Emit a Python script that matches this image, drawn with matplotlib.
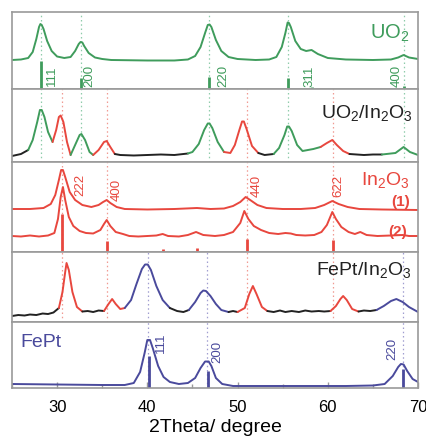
"""XRD patterns: UO2, UO2/In2O3, In2O3 (1)/(2), FePt/In2O3, FePt - stacked panels."""
import numpy as np
import matplotlib.pyplot as plt

plt.rcParams['font.family'] = ['Liberation Sans', 'DejaVu Sans']
plt.rcParams['mathtext.default'] = 'regular'

GREEN = '#3f9c5c'
RED = '#e8473e'
BLUE = '#4a4a9c'
BLACK = '#222222'
FRAME = '#9a9a9a'

# ---- UO2 (panel 1) ----
uo2_x = [25, 26, 26.8, 27.3, 27.7, 28.0, 28.15, 28.3, 28.5, 28.9, 29.4, 30.0, 30.8, 31.5,
         32.0, 32.4, 32.6, 32.8, 33.0, 33.5, 34.2, 35, 36, 40, 43, 44.5, 45.3, 45.9, 46.4,
         46.7, 46.9, 47.1, 47.6, 48.2, 49, 50, 52, 53.5, 54.3, 54.9, 55.3, 55.55, 55.7,
         55.9, 56.4, 57.0, 57.6, 58.2, 58.9, 60, 62, 65, 67, 67.8, 68.4, 69, 70]
uo2_y = [29, 29.5, 31, 37, 50, 62, 65, 64, 60, 48, 38, 32.5, 31, 32,
         38, 45, 47, 46.5, 43, 36, 31.5, 30, 29, 28.5, 28.5, 29.5, 33, 42, 56,
         64, 64.5, 62, 49, 38, 32, 30, 29, 29.5, 32, 42, 56, 66.5, 66,
         62, 48, 40, 38, 39, 35, 31, 29.5, 29, 29.5, 31.5, 34, 31.5, 30]
uo2_ref = [28.2, 32.6, 46.8, 55.6, 58.3, 68.4]
uo2_ref_h = [28, 11, 12, 11, 2, 3]
uo2_hkl = ['111', '200', '220', '311', '400']
uo2_hkl_x = [29.4, 33.6, 48.4, 58.0, 67.6]

# ---- UO2/In2O3 (panel 2) ----
mix1_x = [25, 26, 26.8, 27.3, 27.8, 28.1, 28.3, 28.6, 29.0, 29.5, 29.9, 30.2, 30.4, 30.7,
          31.1, 31.5, 32.0, 32.5, 32.7, 33.1, 33.6, 34.0, 34.6, 35.2, 35.5, 35.9, 36.4, 37,
          38.5, 40, 41.5, 43, 44, 44.5, 45.0, 45.7, 46.3, 46.7, 46.9, 47.2, 47.8, 48.5,
          49.2, 49.7, 50.2, 50.5, 50.7, 51.0, 51.6, 52.3, 53, 54, 54.6, 55.2, 55.5, 55.7,
          56.0, 56.6, 57.2, 57.8, 58.4, 59.2, 59.9, 60.5, 61.0, 61.7, 62.4, 63.2, 64, 65,
          66, 67.5, 68.4, 69.1, 70]
mix1_y = [6, 8, 12, 22, 40, 52, 52, 45, 30, 20, 32, 45, 46.5, 40,
          20, 7, 17, 27, 28, 22, 10, 7, 12, 20, 21, 15, 8, 7,
          6.5, 7, 7.5, 7, 8, 8.5, 10, 18, 32, 38.5, 38.5, 34, 20, 10,
          9, 17, 32, 40.5, 40.5, 33, 16, 9, 7, 8, 14, 27, 35.5, 35.5,
          31, 17, 11, 12, 13, 15, 19, 22, 17, 11, 8, 7.5, 7, 7.5,
          7.5, 9, 15, 10, 7]
mix1_seg = [(25, 26.8, BLACK), (26.8, 29.5, GREEN), (29.5, 31.5, RED), (31.5, 34.0, GREEN),
            (34.0, 36.4, RED), (36.4, 44.5, BLACK), (44.5, 48.5, GREEN), (48.5, 52.3, RED),
            (52.3, 54.0, BLACK), (54.0, 59.2, GREEN), (59.2, 62.4, RED), (62.4, 66, BLACK),
            (66, 70, GREEN)]

# ---- In2O3 (1) and (2) (panel 3) ----
in1_x = [25, 27, 28.5, 29.3, 29.8, 30.2, 30.45, 30.65, 30.9, 31.4, 32.0, 32.8, 33.8, 34.6,
         35.1, 35.5, 35.9, 36.6, 37.5, 40, 43, 45.5, 47, 48.5, 49.5, 50.3, 50.9, 51.4,
         52.2, 53.2, 55, 57, 58.6, 59.6, 60.5, 61.2, 62.2, 63.5, 66, 70]
in1_y = [43, 43, 44, 48, 57, 72, 82, 82, 75, 60, 52, 47, 45, 47,
         50, 52, 49, 45, 43, 42.5, 43, 44, 43, 43.5, 46, 50, 55, 52,
         47, 44, 43, 43, 44, 47, 51, 48, 45, 43, 42.5, 42]
in2_x = [25, 26, 27, 28, 29, 29.7, 30.1, 30.4, 30.65, 30.9, 31.3, 31.8, 32.5, 33.2, 34,
         34.8, 35.2, 35.5, 35.9, 36.5, 37.3, 38, 39, 40, 41, 41.7, 42.3, 43.5, 44.5, 45.4,
         46.2, 47.5, 48.5, 49.5, 50.3, 50.75, 51.2, 51.8, 52.6, 53.5, 54.5, 55.3, 55.9,
         56.5, 57.5, 58.5, 59.3, 59.9, 60.5, 60.9, 61.5, 62.3, 63.0, 63.6, 64.3, 65.5, 67,
         68.3, 69, 70]
in2_y = [16, 15.5, 16.5, 15.5, 16.5, 19, 33, 55, 65, 52, 35, 26, 21, 19, 18.5,
         22, 28, 32, 26, 20, 18, 16, 15.5, 16, 16.5, 18, 16, 15.5, 17, 20,
         17, 16, 17, 20, 29, 41, 33, 26, 22, 19, 18, 19, 18.5,
         17, 16.5, 17, 20, 27, 40, 33, 25, 20, 18, 20, 17, 16, 16.5,
         17, 16, 16]
in_ref = [30.6, 35.5, 41.7, 45.5, 51.0, 60.6]
in_ref_h = [38, 11, 3, 4, 13, 12]
in_hkl = ['222', '400', '440', '622']
in_hkl_x = [32.6, 36.6, 52.1, 61.2]
in_hkl_y = [68, 63, 67, 67]

# ---- FePt/In2O3 (panel 4) ----
mix2_x = [25, 25.7, 26.4, 27, 27.7, 28.4, 29, 29.6, 30.2, 30.6, 30.9, 31.05, 31.3, 31.7,
          32.2, 32.8, 33.4, 34, 34.6, 35.2, 35.7, 36.1, 36.5, 37, 37.5, 38.2, 38.8, 39.4,
          39.75, 40.05, 40.4, 41.0, 41.7, 42.5, 43.3, 44, 44.6, 45.3, 45.9, 46.2, 46.5,
          47.0, 47.6, 48.2, 49, 49.5, 50, 50.8, 51.3, 51.7, 52.1, 52.7, 53.3, 54, 54.7,
          55.3, 56, 56.8, 57.5, 58.2, 59, 59.6, 60.3, 60.9, 61.4, 61.7, 62.1, 62.7, 63.4,
          64, 64.7, 65.4, 66.2, 67.0, 67.6, 68.3, 69.0, 70]
mix2_y = [6, 7, 6.5, 7.5, 7, 8.5, 8, 9.5, 14, 30, 50, 59, 52, 30,
          15, 10.5, 11, 10, 11.5, 11, 18, 23, 18, 13, 14, 22, 38, 53,
          57.5, 57.5, 52, 36, 22, 14, 11, 10, 12, 20, 29, 31.5, 31,
          26, 18, 12, 10, 11, 10, 14, 28, 36, 28, 15, 11, 10, 11.5,
          10, 11, 10, 11.5, 10.5, 11, 10.5, 11, 16, 23, 26, 22, 13, 10.5,
          11.5, 11, 12, 16, 21, 23, 20, 15, 10]
mix2_seg = [(25, 30.2, BLACK), (30.2, 32.8, RED), (32.8, 35.2, BLACK), (35.2, 37.5, RED),
            (37.5, 42.5, BLUE), (42.5, 44.6, BLACK), (44.6, 49, BLUE), (49, 50, BLACK),
            (50, 53.3, RED), (53.3, 60.3, BLACK), (60.3, 63.4, RED), (63.4, 65.4, BLACK),
            (65.4, 70, BLUE)]

# ---- FePt (panel 5) ----
fept_x = [25, 30, 35, 37.5, 38.5, 39.2, 39.7, 40.0, 40.3, 40.6, 41.2, 41.8, 42.5, 43.5,
          44.5, 45.3, 45.9, 46.4, 46.8, 47.1, 47.6, 48.3, 49.5, 55, 62, 65, 66.3, 67.2,
          67.8, 68.1, 68.4, 68.8, 69.4, 70]
fept_y = [4, 3.5, 3, 3, 5, 16, 35, 48, 48, 40, 22, 11, 6, 4,
          5, 10, 20, 26.5, 26.5, 22, 10, 4, 2, 2, 2, 2.5, 4, 12,
          21, 24, 23.5, 17, 9, 6]
fept_ref = [40.2, 46.7, 68.3]
fept_ref_h = [32, 17, 19]
fept_hkl = ['111', '200', '220']
fept_hkl_x = [41.5, 47.8, 67.2]
fept_hkl_y = [46, 37, 40]

# panel guide lines
green_lines = [28.2, 32.6, 46.8, 55.6, 68.4]
red_lines = [30.6, 35.5, 51.0, 60.6]
blue_lines = [40.1, 46.6, 68.3]


def seg_plot(ax, x, y, segs):
	x = np.asarray(x)
	y = np.asarray(y)
	for x0, x1, c in segs:
		m = (x >= x0) & (x <= x1)
		ax.plot(x[m], y[m], color=c, lw=1.4, solid_capstyle='round')


def vguides(ax, xs, color):
	for v in xs:
		ax.axvline(v, color=color, lw=0.9, ls=(0, (1.2, 2.2)), zorder=0)


fig = plt.figure(figsize=(4.27, 4.39), dpi=100)
L, W = 0.028, 0.951
# (bottom, height, ymax)
boxes = [(0.795, 0.1754, 77), (0.6287, 0.1663, 73), (0.4237, 0.2050, 90),
         (0.2642, 0.1595, 70), (0.1139, 0.1503, 66)]
axes = []
for b, h, ymax in boxes:
	ax = fig.add_axes([L, b, W, h])
	ax.set_xlim(25, 70)
	ax.set_ylim(0, ymax)
	ax.set_yticks([])
	for s in ax.spines.values():
		s.set_color(FRAME)
		s.set_linewidth(1.2)
	ax.tick_params(axis='x', which='both', bottom=False, labelbottom=False)
	axes.append(ax)

# panel 1
ax = axes[0]
vguides(ax, green_lines, '#8fccaa')
ax.plot(uo2_x, uo2_y, color=GREEN, lw=1.4)
ax.vlines(uo2_ref, 0, uo2_ref_h, color=GREEN, lw=2)
for t, xv in zip(uo2_hkl, uo2_hkl_x):
	ax.text(xv, 14, t, rotation=90, ha='center', va='center', color=GREEN, fontsize=9.5)
ax.text(69.1, 51, 'UO$_2$', ha='right', va='baseline', color=GREEN, fontsize=14.5)

# panel 2
ax = axes[1]
vguides(ax, green_lines, '#8fccaa')
vguides(ax, red_lines, '#f09a92')
seg_plot(ax, mix1_x, mix1_y, mix1_seg)
ax.text(69.45, 45, 'UO$_2$/In$_2$O$_3$', ha='right', va='baseline', color=BLACK, fontsize=14)

# panel 3
ax = axes[2]
vguides(ax, red_lines, '#f09a92')
ax.plot(in1_x, in1_y, color=RED, lw=1.4)
ax.plot(in2_x, in2_y, color=RED, lw=1.4)
ax.vlines(in_ref, 0, in_ref_h, color=RED, lw=2)
for t, xv, yv in zip(in_hkl, in_hkl_x, in_hkl_y):
	ax.text(xv, yv, t, rotation=90, ha='center', va='center', color=RED, fontsize=9.5)
ax.text(69.1, 68, 'In$_2$O$_3$', ha='right', va='baseline', color=RED, fontsize=14)
ax.text(69.1, 51, '(1)', ha='right', va='center', color=RED, fontsize=11, fontweight='bold')
ax.text(68.8, 21, '(2)', ha='right', va='center', color=RED, fontsize=11, fontweight='bold')

# panel 4
ax = axes[3]
vguides(ax, red_lines, '#f09a92')
vguides(ax, blue_lines, '#a09ed0')
seg_plot(ax, mix2_x, mix2_y, mix2_seg)
ax.text(69.3, 48, 'FePt/In$_2$O$_3$', ha='right', va='baseline', color=BLACK, fontsize=14)

# panel 5
ax = axes[4]
vguides(ax, blue_lines, '#a09ed0')
ax.plot(fept_x, fept_y, color=BLUE, lw=1.4)
ax.vlines(fept_ref, 0, fept_ref_h, color=BLUE, lw=2)
for t, xv, yv in zip(fept_hkl, fept_hkl_x, fept_hkl_y):
	ax.text(xv, yv, t, rotation=90, ha='center', va='center', color=BLUE, fontsize=9.5)
ax.text(25.9, 42, 'FePt', ha='left', va='baseline', color=BLUE, fontsize=14)

ax.set_xticks([30, 40, 50, 60, 70])
ax.set_xticks([25, 35, 45, 55, 65], minor=True)
ax.tick_params(axis='x', which='both', bottom=True, labelbottom=True, direction='in',
               color=FRAME, width=1.0)
ax.tick_params(axis='x', which='major', length=4, labelsize=12, pad=8)
ax.tick_params(axis='x', which='minor', length=3)
ax.set_xlabel('2Theta/ degree', fontsize=14, labelpad=3)

fig.savefig('out.png', dpi=100)
